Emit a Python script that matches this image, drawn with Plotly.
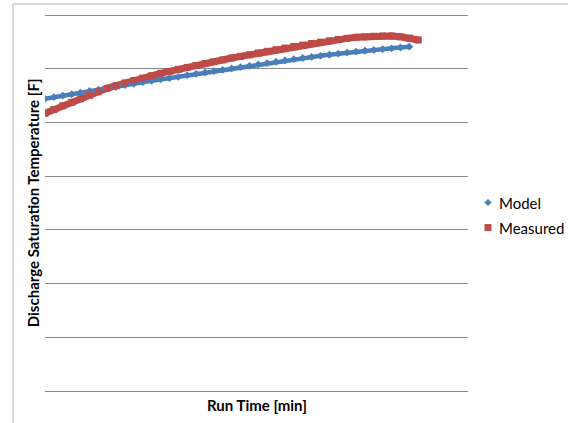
import plotly.graph_objects as go

# Run time in minutes
time_model = [0, 5, 10, 15, 20, 25, 30, 35, 40, 45, 50, 55, 60, 65, 70, 75, 80, 85, 90, 95,
              100, 105, 110, 115, 120, 125, 130, 135, 140, 145, 150, 155, 160, 165, 170, 175,
              180, 185, 190, 195, 200, 205]
time_measured = time_model + [210]

# Discharge saturation temperature [F]
temp_model = [114.4, 114.7, 115.0, 115.25, 115.55, 115.85, 116.1, 116.4, 116.65, 116.95,
              117.2, 117.5, 117.75, 118.0, 118.25, 118.5, 118.8, 119.05, 119.3, 119.55,
              119.8, 120.05, 120.3, 120.55, 120.8, 121.05, 121.3, 121.55, 121.8, 122.0,
              122.2, 122.4, 122.6, 122.8, 123.0, 123.2, 123.35, 123.5, 123.65, 123.8,
              123.95, 124.1]
temp_measured = [111.7, 112.4, 113.1, 113.75, 114.4, 115.05, 115.7, 116.35, 116.85, 117.35,
                 117.8, 118.25, 118.7, 119.15, 119.5, 119.9, 120.25, 120.6, 120.95, 121.3,
                 121.65, 122.0, 122.3, 122.6, 122.95, 123.25, 123.55, 123.85, 124.15, 124.4,
                 124.7, 124.95, 125.2, 125.45, 125.65, 125.85, 125.95, 126.05, 126.1, 126.1,
                 125.95, 125.7, 125.35]

series_names = ["Model", "Measured"]

BLUE = "#4a7ebb"
RED = "#be4b48"
FONT = "Lato"

fig = go.Figure()

# Continuous band behind the markers
fig.add_trace(go.Scatter(x=time_measured, y=temp_measured, mode="lines",
                         line=dict(color=RED, width=7), hoverinfo="skip"))
fig.add_trace(go.Scatter(x=time_model, y=temp_model, mode="lines",
                         line=dict(color=BLUE, width=4.5), hoverinfo="skip"))

# Marker series
fig.add_trace(go.Scatter(x=time_model, y=temp_model, mode="markers", name=series_names[0],
                         marker=dict(symbol="diamond", size=6, color=BLUE)))
fig.add_trace(go.Scatter(x=time_measured, y=temp_measured, mode="markers", name=series_names[1],
                         marker=dict(symbol="square", size=7, color=RED)))

# Legend drawn beside the plot: key glyph + label for each series
legend_x_key = 1.0473
legend_x_text = 1.0686
legend_y = [0.5, 0.4335]
legend_shapes = [
    dict(type="path", xref="paper", yref="paper", xsizemode="pixel", ysizemode="pixel",
         xanchor=legend_x_key, yanchor=legend_y[0],
         path="M -3.6 0 L 0 3.6 L 3.6 0 L 0 -3.6 Z", fillcolor=BLUE, line=dict(width=0)),
    dict(type="rect", xref="paper", yref="paper", xsizemode="pixel", ysizemode="pixel",
         xanchor=legend_x_key, yanchor=legend_y[1],
         x0=-3.5, x1=3.5, y0=-3.5, y1=3.5, fillcolor=RED, line=dict(width=0)),
]
legend_labels = [
    dict(text=name, xref="paper", yref="paper", x=legend_x_text, y=yy,
         xanchor="left", yanchor="middle", showarrow=False,
         font=dict(family=FONT, size=15, color="#000000"))
    for name, yy in zip(series_names, legend_y)
]

fig.update_layout(
    width=568, height=423,
    margin=dict(l=45, r=100, t=14, b=32),
    paper_bgcolor="white", plot_bgcolor="white",
    font=dict(family=FONT, size=15, color="#000000"),
    showlegend=False,
    xaxis=dict(range=[0, 238], showticklabels=False, ticks="", showgrid=False,
               zeroline=False, showline=True, linecolor="#868686", linewidth=1),
    yaxis=dict(range=[60, 130.19], dtick=10, showticklabels=False, ticks="",
               showgrid=True, gridcolor="#8c8c8c", gridwidth=1,
               zeroline=False, showline=False),
    shapes=[dict(type="rect", xref="paper", yref="paper",
                 x0=-0.0757, x1=1.25, y0=-0.1, y1=1.0266,
                 line=dict(color="#b4b4b4", width=1), fillcolor="rgba(0,0,0,0)",
                 layer="below")] + legend_shapes,
    annotations=[
        dict(text="<b>Run Time [min]</b>", xref="paper", yref="paper",
             x=0.5, y=-0.037, xanchor="center", yanchor="middle", showarrow=False,
             font=dict(family=FONT, size=15)),
        dict(text="<b>Discharge Saturation Temperature [F]</b>", xref="paper", yref="paper",
             x=-0.029, y=0.5, xanchor="center", yanchor="middle", showarrow=False,
             textangle=-90, font=dict(family=FONT, size=15)),
    ] + legend_labels,
)

fig.write_html("out.html")
